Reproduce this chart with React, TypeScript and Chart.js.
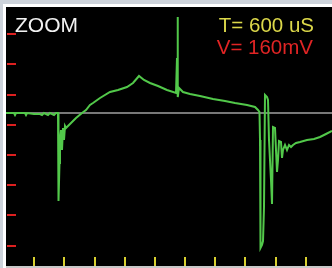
import React, { useEffect, useRef } from "react";
import { Chart, registerables } from "chart.js";

Chart.register(...registerables);

// time samples (screen-time units) and signal samples (relative to baseline)
const timeValues = [
  0, 8, 9, 10, 19, 20, 21, 28, 34, 36, 38, 42, 44, 48, 50, 52,
  52.5, 53.5, 54, 55, 56, 57, 58, 59, 60, 64, 70, 76, 80, 84, 87, 94,
  104, 112, 121, 127, 133, 138, 144, 152, 161, 170, 171, 171.5, 172, 173,
  177, 184, 194, 207, 219, 229, 241, 249, 252, 253.5, 254, 254.5, 256, 257,
  258, 259, 261, 262, 263, 265, 266, 267, 269, 270, 271, 272, 273, 275,
  276, 277, 279, 281, 283, 285, 287, 290, 294, 301, 308, 314, 320, 326,
];
const signalValues = [
  0, 0, -2, 0, 0, -2, 0, -1, -1, -2, 0, -2, 0, -2, 0, 0,
  -88, -50, -27, -17, -37, -15, -27, -13, -15, -11, -5, 0, 3, 8, 10, 15,
  21, 23, 26, 30, 37, 33, 30, 27, 23, 20, 55, 96, 16, 25,
  21, 19, 17, 14, 12, 10, 8, 6, 3, 1, -27, -135, -132, -128,
  -94, 18, 16, 13, -27, -67, -91, -14, -15, -37, -59, -47, -28, -29,
  -45, -37, -32, -37, -32, -34, -32, -30, -29, -27, -26, -24, -21, -18,
];
const voltTicks = [79, 49, 18, -12, -42, -72, -102, -133];
const timeTicks = [28, 58, 89, 119, 149, 179, 209, 239, 270, 300];
const baselineValue = 0;
const titleLabel = "ZOOM";
const timeLabel = "T= 600 uS";
const voltLabel = "V= 160mV";

const scopePlugin = {
  id: "scope",
  beforeDraw(chart: any) {
    const { ctx, chartArea: a, width, height } = chart;
    ctx.save();
    ctx.fillStyle = "#cdd3db";
    ctx.fillRect(0, 0, width, height);
    ctx.fillStyle = "#ffffff";
    ctx.fillRect(3, 4, width - 3, height - 4);
    ctx.fillStyle = "#000000";
    ctx.fillRect(a.left, a.top, a.right - a.left, a.bottom - a.top);
    ctx.fillStyle = "#c8c8c8";
    ctx.fillRect(a.left, a.bottom, a.right - a.left, height - a.bottom);
    ctx.restore();
  },
  beforeDatasetsDraw(chart: any) {
    const { ctx, chartArea: a, scales } = chart;
    const xs = scales.x;
    const ys = scales.y;
    ctx.save();
    const by = ys.getPixelForValue(baselineValue);
    ctx.strokeStyle = "#787878";
    ctx.lineWidth = 2;
    ctx.beginPath();
    ctx.moveTo(a.left, by);
    ctx.lineTo(a.right, by);
    ctx.stroke();
    ctx.fillStyle = "#dd2020";
    voltTicks.forEach((v) => {
      const y = ys.getPixelForValue(v);
      ctx.fillRect(a.left + 1, Math.round(y) - 1, 9, 2);
    });
    ctx.fillStyle = "#d8d030";
    timeTicks.forEach((t) => {
      const x = xs.getPixelForValue(t);
      ctx.fillRect(Math.round(x) - 1, a.bottom - 9, 2, 9);
    });
    ctx.restore();
  },
  afterDatasetsDraw(chart: any) {
    const { ctx } = chart;
    ctx.save();
    ctx.textBaseline = "alphabetic";
    ctx.textAlign = "left";
    ctx.font = "21px 'Liberation Sans', Arial, sans-serif";
    ctx.fillStyle = "#f2f2f2";
    ctx.fillText(titleLabel, 15, 32);
    ctx.font = "20.5px 'Liberation Sans', Arial, sans-serif";
    ctx.textAlign = "right";
    ctx.fillStyle = "#dcd84a";
    ctx.fillText(timeLabel, 314, 32);
    ctx.fillStyle = "#e02424";
    ctx.fillText(voltLabel, 313, 54);
    ctx.restore();
  },
};

export default function App() {
  const ref = useRef<HTMLCanvasElement>(null);
  useEffect(() => {
    if (!ref.current) return;
    const chart = new Chart(ref.current, {
      type: "line",
      data: {
        datasets: [
          {
            data: timeValues.map((t, i) => ({ x: t, y: signalValues[i] })),
            borderColor: "#52c84a",
            borderWidth: 2,
            pointRadius: 0,
            tension: 0,
            fill: false,
          },
        ],
      },
      options: {
        animation: false,
        responsive: false,
        devicePixelRatio: 1,
        layout: { padding: { left: 6, top: 7, right: 0, bottom: 2 } },
        plugins: { legend: { display: false }, tooltip: { enabled: false } },
        scales: {
          x: { type: "linear", min: 0, max: 326, display: false },
          y: { type: "linear", min: -153, max: 106, display: false },
        },
      },
      plugins: [scopePlugin],
    });
    return () => chart.destroy();
  }, []);
  return (
    <div style={{ position: "fixed", left: 0, top: 0, width: 332, height: 268 }}>
      <canvas ref={ref} width={332} height={268} style={{ display: "block", width: 332, height: 268 }} />
    </div>
  );
}
